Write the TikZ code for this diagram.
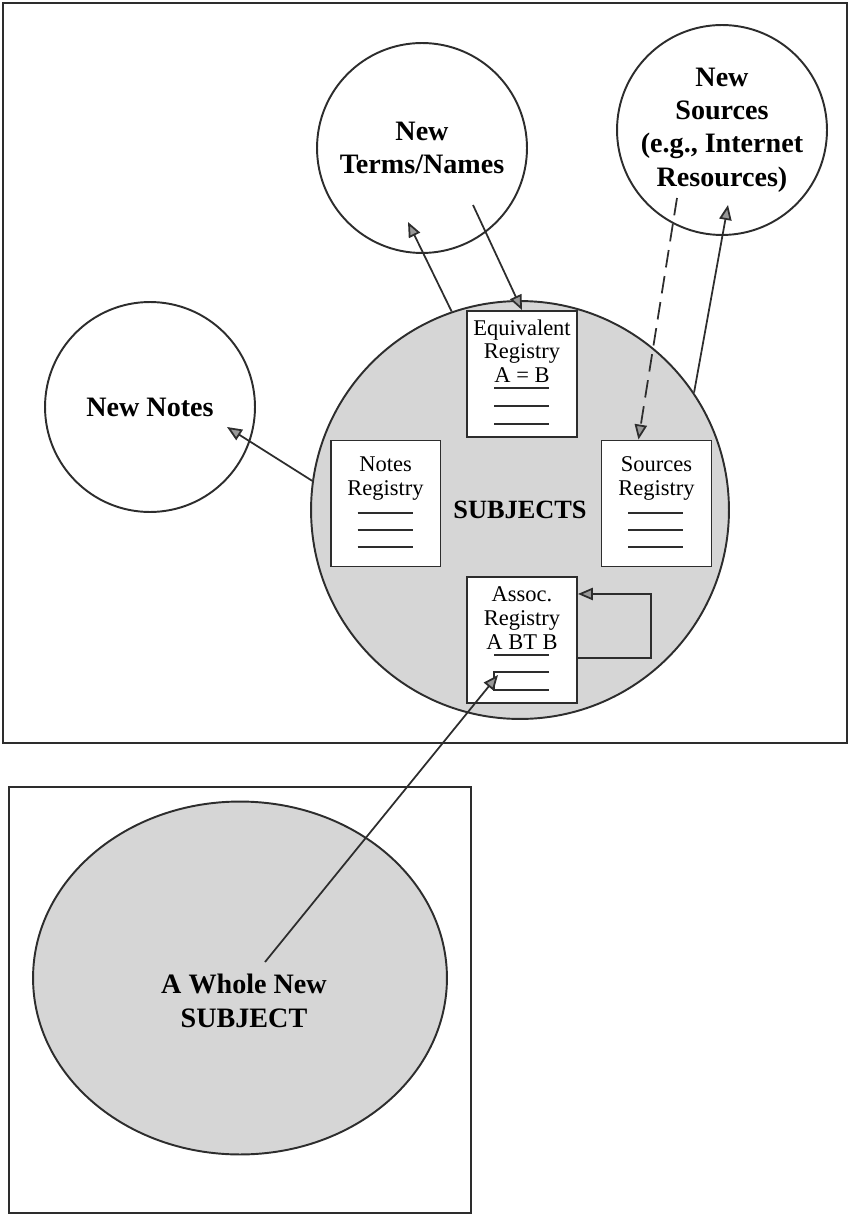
\documentclass[tikz,border=0pt]{standalone}
\usepackage{fontspec}
\setmainfont{Liberation Serif}
\usetikzlibrary{arrows.meta,calc,shapes.geometric}

\definecolor{subjgray}{RGB}{214,214,214}
\definecolor{inkgray}{RGB}{45,45,45}

\tikzstyle{topic} = [circle, draw=inkgray, line width=1.1pt, minimum size=4.2cm, inner sep=0pt, align=center, font=\fontsize{16}{19}\selectfont\bfseries]
\tikzstyle{subjectarea} = [circle, draw=inkgray, line width=1.1pt, fill=subjgray, minimum size=8.36cm, inner sep=0pt, font=\fontsize{15}{17}\selectfont\bfseries]
\tikzstyle{registry} = [rectangle, minimum width=2.2cm, minimum height=2.52cm, inner sep=0pt, draw=inkgray, line width=1.1pt, fill=white]
\tikzstyle{regtext} = [anchor=north, inner sep=0pt, align=center, font=\fontsize{12.8}{13.6}\selectfont]
\tikzstyle{regline} = [draw=inkgray, line width=1.1pt]
\tikzstyle{frame} = [draw=inkgray, line width=1.5pt]
\tikzstyle{arrow} = [draw=inkgray, line width=1pt, -{Triangle[width=7pt,length=8.5pt,fill=black!40]}]

\begin{document}
\begin{tikzpicture}[x=0.02cm, y=-0.02cm]
	\useasboundingbox (0,0) rectangle (849,1216);
	% Frames
	\draw [frame] (3,3) rectangle (847,743);
	\draw [frame] (9,787) rectangle (471,1213);
	% Place nodes
	\node [topic] (terms) at (422,148) {New\\Terms/Names};
	\node [topic] (sources) at (722,130) {New\\Sources\\(e.g., Internet\\Resources)};
	\node [topic] (notes) at (150,407) {New Notes};
	\node [subjectarea] (subjects) at (520,510) {SUBJECTS};
	\node [registry, above of=subjects, node distance=2.72cm, xshift=0.04cm] (equivreg) {};
	\node [registry, left of=subjects, node distance=2.69cm, yshift=0.13cm] (notesreg) {};
	\node [registry, right of=subjects, node distance=2.73cm, yshift=0.13cm] (srcreg) {};
	\node [registry, below of=subjects, node distance=2.6cm, xshift=0.04cm] (assocreg) {};
	\node [regtext] (equivtext) at ($(equivreg.north)+(0,9)$) {Equivalent\\Registry\\A = B};
	\node [regtext] (notestext) at ($(notesreg.north)+(0,17)$) {Notes\\Registry};
	\node [regtext] (srctext) at ($(srcreg.north)+(0,17)$) {Sources\\Registry};
	\node [regtext] (assoctext) at ($(assocreg.north)+(0,10)$) {Assoc.\\Registry\\A BT B};
	\node [ellipse, draw=inkgray, line width=1.1pt, fill=subjgray, minimum width=8.28cm, minimum height=7.06cm] (wholesubj) at (240,978) {};
	\node [font=\fontsize{16}{19}\selectfont\bfseries, align=center] (wholetext) at (244,1001) {A Whole New\\SUBJECT};
	% Lines in the registries
	\foreach \dy in {78,96,114} {
		\draw [regline] ($(equivreg.north)+(-28,\dy)$) -- ++(55,0);
	}
	\foreach \dy in {73,90,107} {
		\draw [regline] ($(notesreg.north)+(-28,\dy)$) -- ++(55,0);
		\draw [regline] ($(srcreg.north)+(-28,\dy)$) -- ++(55,0);
	}
	\draw [regline] ($(assocreg.north)+(-28,79)$) -- ++(55,0);
	\draw [regline] ($(assocreg.north)+(27,96)$) -- ++(-55,0) -- ++(0,18) -- ++(55,0);
	% Arrow ends
	\coordinate (termstip) at (408,222);
	\coordinate (termsfoot) at (473,205);
	\coordinate (srcfoot) at (677,198);
	\coordinate (srctip) at (728,205);
	\coordinate (notestip) at (227,427);
	\coordinate (wholefoot) at (265,962);
	\coordinate (assoctip) at (498,675);
	% Draw edges
	\draw [arrow] (subjects.109) -- (termstip);
	\draw [arrow] (termsfoot) -- (equivreg.north);
	\draw [arrow, dash pattern=on 10pt off 5pt] (srcfoot) -- ($(srcreg.north)+(-18,0)$);
	\draw [arrow] (subjects.34) -- (srctip);
	\draw [arrow] (subjects.172) -- (notestip);
	\draw [arrow] ($(assocreg.east)+(0,18)$) -- ++(73,0) -- ++(0,-64) -- ($(assocreg.east)+(0,-46)$);
	\draw [arrow] (wholefoot) -- (assoctip);
\end{tikzpicture}
\end{document}
